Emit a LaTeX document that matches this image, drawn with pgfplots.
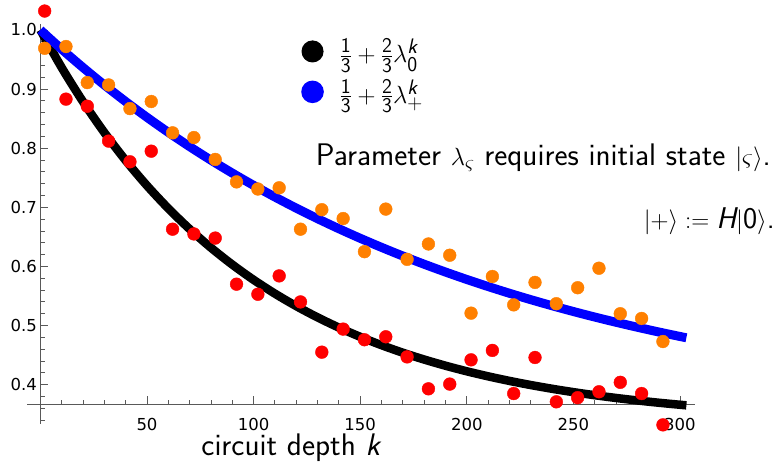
\documentclass[border=0pt]{standalone}
\usepackage{fontspec}
\usepackage{mathtools}
\usepackage{pgfplots}
\pgfplotsset{compat=1.18}
\newfontfamily\dejavu{DejaVu Sans}
\definecolor{mmaorange}{rgb}{1,0.5,0}
\definecolor{axgray}{gray}{0.35}
\newcommand{\sk}{\textsf{\itshape k}}
\newcommand{\bigsf}{\sffamily\fontsize{30}{35}\selectfont}
\newcommand{\biggsf}{\sffamily\fontsize{31.2}{36}\selectfont}

\pgfplotstableread{
k v
2 1.032
12 0.883
22 0.871
32 0.812
42 0.777
52 0.795
62 0.663
72 0.655
82 0.648
92 0.570
102 0.553
112 0.584
122 0.540
132 0.455
142 0.494
152 0.476
162 0.481
172 0.447
182 0.393
192 0.401
202 0.442
212 0.458
222 0.385
232 0.446
242 0.371
252 0.378
262 0.388
272 0.404
282 0.385
292 0.332
}\reddata

\pgfplotstableread{
k v
2 0.969
12 0.972
22 0.911
32 0.907
42 0.867
52 0.879
62 0.826
72 0.818
82 0.781
92 0.743
102 0.731
112 0.733
122 0.663
132 0.696
142 0.681
152 0.625
162 0.697
172 0.612
182 0.638
192 0.619
202 0.521
212 0.583
222 0.535
232 0.573
242 0.537
252 0.564
262 0.597
272 0.520
282 0.512
292 0.473
}\orangedata

\pgfplotstableread{
k v
0 1.00000
10 0.93625
20 0.87860
30 0.82647
40 0.77931
50 0.73667
60 0.69810
70 0.66323
80 0.63168
90 0.60315
100 0.57735
110 0.55402
120 0.53292
130 0.51384
140 0.49658
150 0.48097
160 0.46685
170 0.45408
180 0.44254
190 0.43210
200 0.42265
210 0.41411
220 0.40639
230 0.39940
240 0.39309
250 0.38737
260 0.38221
270 0.37753
280 0.37331
290 0.36948
300 0.36603
303 0.36506
}\blackcurve

\pgfplotstableread{
k v
0 1.00000
10 0.96741
20 0.93641
30 0.90692
40 0.87888
50 0.85221
60 0.82684
70 0.80271
80 0.77977
90 0.75794
100 0.73718
110 0.71744
120 0.69866
130 0.68080
140 0.66381
150 0.64765
160 0.63229
170 0.61767
180 0.60377
190 0.59055
200 0.57797
210 0.56601
220 0.55464
230 0.54382
240 0.53353
250 0.52374
260 0.51443
270 0.50558
280 0.49716
290 0.48915
300 0.48153
303 0.47933
}\bluecurve

\begin{document}
\begin{tikzpicture}
\begin{axis}[
  scale only axis, width=654.5pt, height=380.3pt,
  xmin=0, xmax=307, ymin=0.3667, ymax=1.01,
  axis lines=left,
  axis line style={-, axgray, line width=0.9pt},
  clip=false,
  tick align=inside,
  major tick length=8pt, minor tick length=4.5pt,
  every tick/.style={axgray, line width=0.9pt},
  xtick={50,100,150,200,250,300},
  minor xtick={10,20,...,300},
  ytick={0.4,0.5,0.6,0.7,0.8,0.9,1.0},
  minor ytick={0.38,0.40,...,1.00},
  tick label style={font=\dejavu\fontsize{16.5}{19}\selectfont, black},
  xticklabel style={yshift=-10pt},
  /pgf/number format/assume math mode=true,
  yticklabel style={/pgf/number format/.cd, fixed, fixed zerofill, precision=1},
  legend style={at={(axis cs:122.3,0.9295)}, anchor=west, draw=none, fill=none,
    font=\bigsf, inner sep=0pt, row sep=11pt,
    /tikz/every odd column/.append style={column sep=14pt}},
  legend cell align=left,
]
\addplot[black, line width=8.5pt, smooth,
  legend image code/.code={\fill[black] (0pt,0pt) circle (6.7pt);}]
  table[x=k, y=v] {\blackcurve};
\addlegendentry{$\frac{\mathsf{1}}{\mathsf{3}}+\frac{\mathsf{2}}{\mathsf{3}}\lambda_{\mathsf{0}}^{\sk}$}
\addplot[blue, line width=9pt, smooth,
  legend image code/.code={\fill[blue] (0pt,0pt) circle (6.7pt);}]
  table[x=k, y=v] {\bluecurve};
\addlegendentry{$\frac{\mathsf{1}}{\mathsf{3}}+\frac{\mathsf{2}}{\mathsf{3}}\lambda_{+}^{\sk}$}
\addplot[only marks, mark=*, mark size=6.4pt, red, mark options={draw=none, fill=red}, forget plot]
  table[x=k, y=v] {\reddata};
\addplot[only marks, mark=*, mark size=6.4pt, mmaorange, mark options={draw=none, fill=mmaorange}, forget plot]
  table[x=k, y=v] {\orangedata};
\coordinate (O) at (axis cs:0,0.3667);
\coordinate (BL) at (axis cs:-18.95,0.2625);
\coordinate (TR) at (axis cs:344.1,1.0507);
\node[anchor=base east, font=\biggsf, inner sep=0pt] at (axis cs:342.7,0.7700)
  {Parameter $\lambda_\varsigma$ requires initial state $|\varsigma\rangle$.};
\node[anchor=base east, font=\bigsf, inner sep=0pt] at (axis cs:344.5,0.6634)
  {$|{+}\rangle \mathrel{:=} \textsf{\itshape H}|\mathsf{0}\rangle$.};
\node[anchor=base, font=\biggsf, inner sep=0pt] at (axis cs:117.8,0.2794)
  {circuit depth \sk};
\end{axis}
\draw[axgray, line width=0.9pt] ([xshift=-13.4pt]O) -- (O);
\draw[axgray, line width=0.9pt] (O) -- ([yshift=-19.9pt]O);
\draw[axgray, line width=0.9pt] ([yshift=-4pt]O) -- ([xshift=4.5pt,yshift=-4pt]O);
\draw[axgray, line width=0.9pt] ([yshift=-15.8pt]O) -- ([xshift=4.5pt,yshift=-15.8pt]O);
\pgfresetboundingbox
\path[use as bounding box] (BL) rectangle (TR);
\end{tikzpicture}
\end{document}
